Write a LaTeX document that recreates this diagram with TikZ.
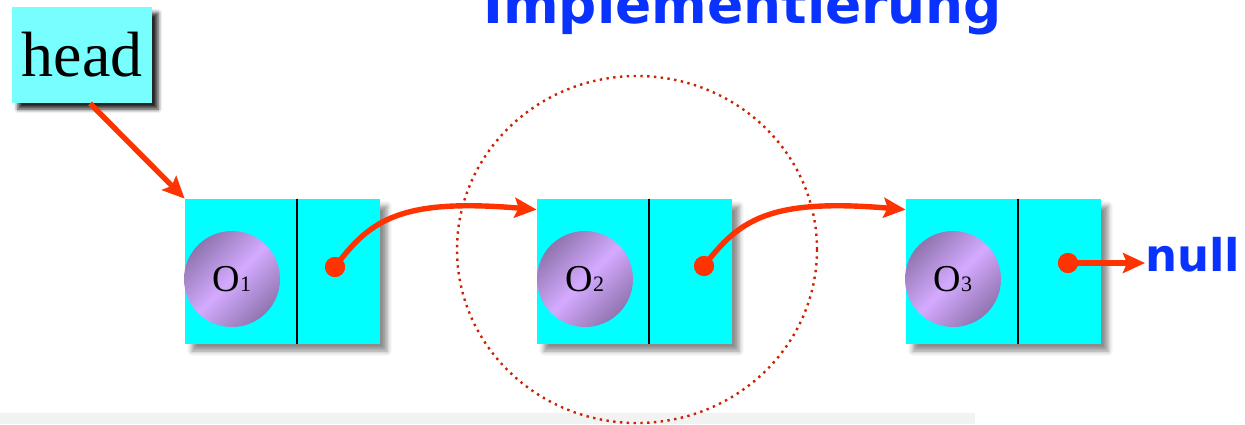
\documentclass[tikz,border=0pt]{standalone}
\usepackage{fontspec}
\setmainfont{Liberation Serif}
\newfontfamily\vfont{DejaVu Sans}
\usetikzlibrary{shadows.blur, arrows.meta}
\definecolor{cellcyan}{HTML}{00FFFF}
\definecolor{headcyan}{HTML}{77FFFF}
\definecolor{ptrred}{HTML}{FF3300}
\definecolor{titleblue}{HTML}{0A32FF}
\definecolor{objdark}{HTML}{9075B0}
\definecolor{objlight}{HTML}{D4AAFF}
\definecolor{ringred}{HTML}{CC2200}
\begin{document}
\begin{tikzpicture}[x=0.5pt, y=-0.5pt,
  cell/.style={rectangle, fill=cellcyan, minimum width=97.5pt, minimum height=72.5pt, inner sep=0pt,
    blur shadow={shadow xshift=3.5pt, shadow yshift=-3.5pt, shadow blur radius=2.5pt, shadow opacity=45}},
  headbox/.style={rectangle, fill=headcyan, minimum width=70pt, minimum height=48pt, inner sep=0pt,
    font=\fontsize{32}{32}\selectfont,
    blur shadow={shadow xshift=3pt, shadow yshift=-3pt, shadow blur radius=2pt, shadow opacity=85}},
  obj/.style={circle, minimum size=48pt, inner sep=0pt, top color=objdark,
    bottom color=objdark, middle color=objlight, shading angle=45, font=\fontsize{19}{19}\selectfont},
  dot/.style={circle, fill=ptrred, minimum size=10pt, inner sep=0pt},
  divider/.style={line width=1pt, black},
  ptr/.style={ptrred, line width=2.7pt, -{Stealth[length=11pt, width=10pt, inset=2pt]}},
  bluetext/.style={text=titleblue, inner sep=0pt, font=\vfont\bfseries}
]
\useasboundingbox (0,0) rectangle (1245,424);
\clip (0,0) rectangle (1245,424);

% bottom strip
\fill[gray!10] (0,413) rectangle (975,424);

% title
\node[bluetext, anchor=base west, font=\vfont\bfseries\fontsize{26.7}{26.7}\selectfont] (title) at (483,23) {Implementierung};

% head
\node[headbox] (head) at (82,55) {head};

% cells
\node[cell] (c1) at (282.5,271.5) {};
\node[cell] (c2) at (634.5,271.5) {};
\node[cell] (c3) at (1003.5,271.5) {};
\foreach \c in {c1,c2,c3}
  \draw[divider] ([xshift=56pt]\c.north west) -- ([xshift=56pt]\c.south west);

% objects
\node[obj] (o1) at (232,279) {O{\fontsize{11}{11}\selectfont 1}};
\node[obj] (o2) at (585,279) {O{\fontsize{11}{11}\selectfont 2}};
\node[obj] (o3) at (953,279) {O{\fontsize{11}{11}\selectfont 3}};

% dotted ring
\draw[ringred, line width=1.2pt, dash pattern=on 1.2pt off 2.2pt] (637,249.5) ellipse [x radius=180, y radius=173.5];

% null label
\node[bluetext, anchor=base west, font=\vfont\bfseries\fontsize{22.5}{22.5}\selectfont] (null) at (1145,271) {null};

% pointer dots
\node[dot] (p1) at (335,267) {};
\node[dot] (p2) at (704,266) {};
\node[dot] (p3) at (1068,263) {};

% connectors
\draw[ptr] ([xshift=4pt]head.south) -- (c1.north west);
\draw[ptr] (p1.center) .. controls (370,220) and (400,198) .. ([yshift=-5.5pt]c2.north west);
\draw[ptr] (p2.center) .. controls (739,220) and (769,198) .. ([yshift=-5.5pt]c3.north west);
\draw[ptr] (p3.center) -- (p3.center -| null.west);

% redraw dots on top
\node[dot] at (p1) {};
\node[dot] at (p2) {};
\node[dot] at (p3) {};
\end{tikzpicture}
\end{document}
